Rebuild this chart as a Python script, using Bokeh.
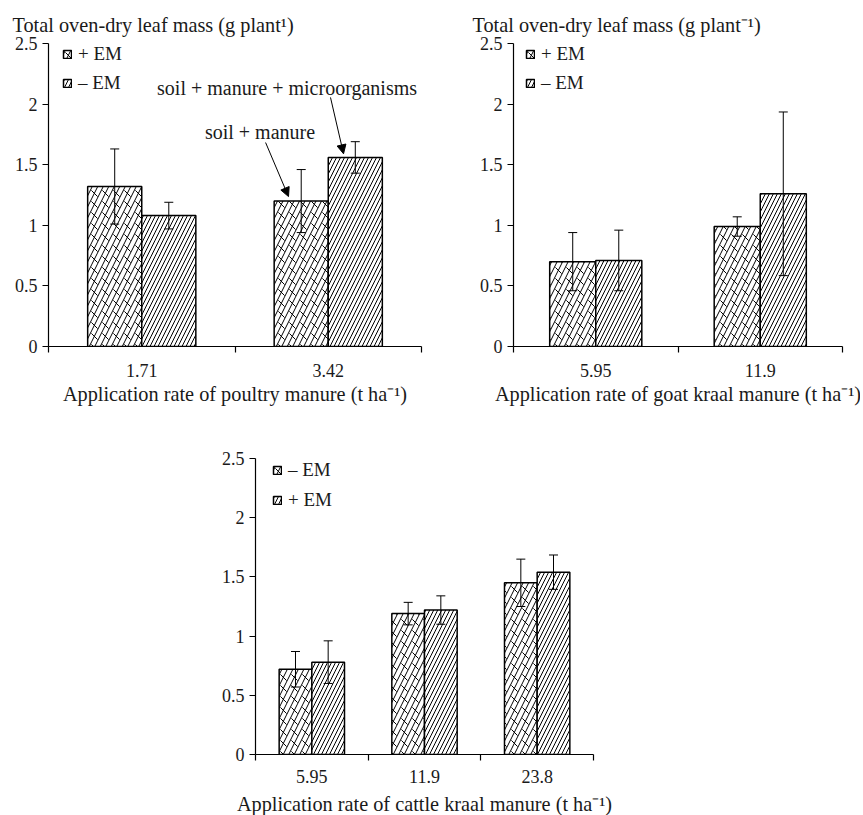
from bokeh.plotting import figure
from bokeh.models import (Range1d, FixedTicker, Label, Legend, LegendItem, Whisker,
                          TeeHead, Arrow, NormalHead, ColumnDataSource, Spacer)
from bokeh.layouts import row, column
from bokeh.embed import file_html
from bokeh.resources import INLINE

# ---------------- data ----------------
poultry_rates = ["1.71", "3.42"]
poultry_plus_em = [1.32, 1.20]
poultry_plus_em_err = [0.31, 0.26]
poultry_minus_em = [1.08, 1.56]
poultry_minus_em_err = [0.11, 0.13]

goat_rates = ["5.95", "11.9"]
goat_plus_em = [0.70, 0.99]
goat_plus_em_err = [0.24, 0.08]
goat_minus_em = [0.71, 1.26]
goat_minus_em_err = [0.25, 0.675]

cattle_rates = ["5.95", "11.9", "23.8"]
cattle_minus_em = [0.72, 1.19, 1.45]
cattle_minus_em_err = [0.15, 0.095, 0.20]
cattle_plus_em = [0.78, 1.22, 1.54]
cattle_plus_em_err = [0.18, 0.12, 0.145]

y_ticks = [0, 0.5, 1, 1.5, 2, 2.5]
y_tick_labels = ["0", "0.5", "1", "1.5", "2", "2.5"]

FONT = "Liberation Serif"
TXT = "#1a1a1a"


def make_panel(rates, first, second, bw, frame_w, frame_h, borders,
               xlabel, ylabel=None, legend_pos=(14, 0), legend_gap=7,
               tick_standoff=11, label_standoff=3):
    n = len(rates)
    centers = [i + 0.5 for i in range(n)]
    p = figure(frame_width=frame_w, frame_height=frame_h,
               x_range=Range1d(0, n), y_range=Range1d(0, 2.5),
               output_backend="svg", toolbar_location=None,
               min_border_left=borders[0], min_border_right=borders[1],
               min_border_top=borders[2], min_border_bottom=borders[3])
    p.outline_line_color = None
    p.grid.visible = False
    p.background_fill_color = "white"

    items = []
    for k, (vals, errs, name, kind) in enumerate([first, second]):
        xs = [c + (k - 0.5) * bw for c in centers]
        src = ColumnDataSource(dict(x=xs, top=vals,
                                    upper=[v + e for v, e in zip(vals, errs)],
                                    lower=[v - e for v, e in zip(vals, errs)]))
        if kind == "brick":
            ra = p.vbar(x="x", top="top", bottom=0, width=bw, source=src,
                        fill_color="white", line_color=None,
                        hatch_pattern="right_diagonal_line", hatch_scale=11,
                        hatch_color="black", hatch_weight=1)
            rb = p.vbar(x="x", top="top", bottom=0, width=bw, source=src,
                        fill_alpha=0, line_color="black", line_width=1.5,
                        hatch_pattern="left_diagonal_dash", hatch_scale=11,
                        hatch_color="black", hatch_weight=1)
            rends = [ra, rb]
        else:
            r = p.vbar(x="x", top="top", bottom=0, width=bw, source=src,
                       fill_color="white", line_color="black", line_width=1.5,
                       hatch_pattern="right_diagonal_line", hatch_scale=8,
                       hatch_color="black", hatch_weight=1)
            rends = [r]
        w = Whisker(base="x", upper="upper", lower="lower", source=src,
                    line_color="black", line_width=1, level="overlay",
                    upper_head=TeeHead(size=9, line_width=1, line_color="black"),
                    lower_head=TeeHead(size=9, line_width=1, line_color="black"))
        p.add_layout(w)
        items.append(LegendItem(label=name, renderers=rends))

    leg = Legend(items=items, location=(legend_pos[0], frame_h - legend_pos[1] - 51),
                 padding=0, margin=0, spacing=legend_gap,
                 glyph_width=10, glyph_height=10, label_height=22,
                 label_standoff=6, label_text_font=FONT, label_text_font_size="19px",
                 label_text_color=TXT, label_text_baseline="middle",
                 background_fill_alpha=0, border_line_alpha=0)
    p.add_layout(leg)

    # y axis
    yax = p.yaxis[0]
    yax.ticker = FixedTicker(ticks=y_ticks)
    yax.major_label_overrides = {t: s for t, s in zip(y_ticks, y_tick_labels)}
    yax.minor_tick_line_color = None
    yax.major_tick_out = 6
    yax.major_tick_in = 0
    yax.major_label_standoff = 5
    yax.major_label_text_font = FONT
    yax.major_label_text_font_size = "18px"
    yax.major_label_text_color = TXT
    yax.axis_line_color = "black"
    yax.axis_line_width = 1.2
    yax.major_tick_line_color = "black"
    yax.major_tick_line_width = 1.2

    # x axis
    xax = p.xaxis[0]
    xax.ticker = FixedTicker(ticks=centers, minor_ticks=list(range(n + 1)))
    xax.major_label_overrides = {c: r for c, r in zip(centers, rates)}
    xax.major_tick_out = 0
    xax.major_tick_in = 0
    xax.minor_tick_out = 6
    xax.minor_tick_in = 0
    xax.minor_tick_line_color = "black"
    xax.minor_tick_line_width = 1.2
    xax.major_label_standoff = tick_standoff
    xax.major_label_text_font = FONT
    xax.major_label_text_font_size = "18px"
    xax.major_label_text_color = TXT
    xax.axis_line_color = "black"
    xax.axis_line_width = 1.2
    xax.axis_label = xlabel
    xax.axis_label_text_font = FONT
    xax.axis_label_text_font_style = "normal"
    xax.axis_label_text_font_size = "20.3px"
    xax.axis_label_text_color = TXT
    xax.axis_label_standoff = label_standoff

    if ylabel:
        p.title.text = ylabel[0]
        p.title.align = "left"
        p.title.offset = ylabel[1]
        p.title.standoff = 16
        p.title.text_font = FONT
        p.title.text_font_size = "20.3px"
        p.title.text_font_style = "normal"
        p.title.text_color = TXT
    return p


p1 = make_panel(poultry_rates,
                (poultry_plus_em, poultry_plus_em_err, "+ EM", "brick"),
                (poultry_minus_em, poultry_minus_em_err, "\u2013 EM", "lines"),
                0.29, 373, 303, (48, 10, 43, 61),
                "Application rate of poultry manure (t ha\u207b\u00b9)",
                ylabel=("Total oven-dry leaf mass (g plant\u00b9)", -36),
                legend_pos=(14, 0))

# annotations on the poultry panel
ann_text = [("soil + manure + microorganisms", 1.279, 2.13),
            ("soil + manure", 1.134, 1.766)]
for t, ax, ay in ann_text:
    p1.add_layout(Label(x=ax, y=ay, text=t, text_font=FONT, text_font_size="20px",
                        text_color=TXT, text_align="center", text_baseline="middle"))
ann_arrows = [(1.512, 2.055, 1.582, 1.59), (1.164, 1.683, 1.287, 1.237)]
for xs_, ys_, xe_, ye_ in ann_arrows:
    p1.add_layout(Arrow(x_start=xs_, y_start=ys_, x_end=xe_, y_end=ye_,
                        line_color="black", line_width=1,
                        end=NormalHead(size=9, fill_color="black", line_color="black")))

p2 = make_panel(goat_rates,
                (goat_plus_em, goat_plus_em_err, "+ EM", "brick"),
                (goat_minus_em, goat_minus_em_err, "\u2013 EM", "lines"),
                0.28, 329, 303, (82, 18, 43, 61),
                "Application rate of goat kraal manure (t ha\u207b\u00b9)",
                ylabel=("Total oven-dry leaf mass (g plant\u207b\u00b9)", -41),
                legend_pos=(12, 0))

p3 = make_panel(cattle_rates,
                (cattle_minus_em, cattle_minus_em_err, "\u2013 EM", "brick"),
                (cattle_plus_em, cattle_plus_em_err, "+ EM", "lines"),
                0.29, 338, 296, (55, 30, 51, 61),
                "Application rate of cattle kraal manure (t ha\u207b\u00b9)",
                legend_pos=(17, 2), legend_gap=8, tick_standoff=9, label_standoff=7)

layout = column(row(p1, p2), row(Spacer(width=200, height=10), p3))

open("out.html", "w").write(file_html(layout, INLINE))
